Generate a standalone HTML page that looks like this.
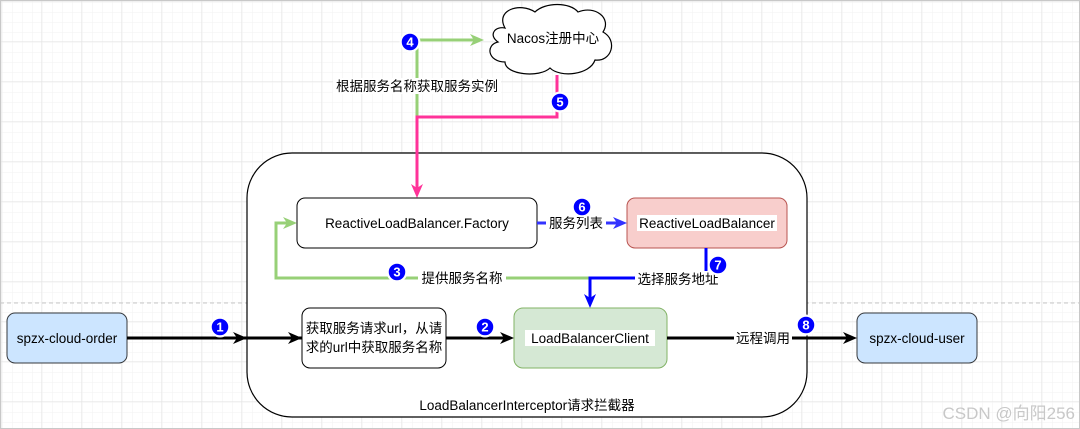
<!DOCTYPE html>
<html><head><meta charset="utf-8"><style>
html,body{margin:0;padding:0;background:#fff}
svg{display:block}
text{font-family:"Liberation Sans","Noto Sans CJK SC",sans-serif;font-size:13.5px;fill:#000}
.b{fill:#fff;font-size:13px;font-weight:bold}
</style></head><body>
<svg width="1080" height="429" viewBox="0 0 1080 429" xmlns="http://www.w3.org/2000/svg">
<defs>
<pattern id="minor" width="10" height="10" patternUnits="userSpaceOnUse" x="1" y="1">
<path d="M10 0H0V10" fill="none" stroke="#f2f2f2" stroke-width="1"/></pattern>
<pattern id="major" width="40" height="40" patternUnits="userSpaceOnUse" x="1" y="1">
<rect width="40" height="40" fill="url(#minor)"/>
<path d="M40 0H0V40" fill="none" stroke="#e2e2e2" stroke-width="1"/></pattern>
<g id="badge"><circle r="10.5" fill="#fff" opacity="0.9"/><circle r="9" fill="#0000ff" stroke="#fff" stroke-width="1.5"/></g>
</defs>
<rect width="1080" height="429" fill="url(#major)"/>
<rect x="0.5" y="0.5" width="1079" height="428" fill="none" stroke="#c8c8c8"/>
<line x1="0" y1="303" x2="1080" y2="303" stroke="#c8c8c8" stroke-dasharray="4,3"/>

<rect x="247" y="153" width="560" height="264" rx="45" fill="#fff" stroke="#000" stroke-width="1.2"/>
<text x="527" y="410" text-anchor="middle">LoadBalancerInterceptor请求拦截器</text>

<path d="M505,28 C495,10 520,2 535,12 C545,2 570,2 578,12 C595,5 612,18 603,32 C618,40 612,62 595,60 C590,75 560,78 550,68 C540,78 505,75 505,62 C488,62 485,45 498,42 C488,35 495,26 505,28z" fill="#fff" stroke="#000" stroke-width="1.2"/>
<text x="553" y="43" text-anchor="middle">Nacos注册中心</text>

<path d="M417,117 V40 H478" fill="none" stroke="#97d077" stroke-width="3"/>
<path d="M484,40 L470,34 L474,40 L470,46z" fill="#97d077"/>
<rect x="333" y="78" width="168" height="16" fill="#fff"/>
<text x="417" y="91" text-anchor="middle">根据服务名称获取服务实例</text>
<path d="M557,75 V117 H417 V190" fill="none" stroke="#ff3399" stroke-width="3"/>
<path d="M417,198 L411,184 L417,188 L423,184z" fill="#ff3399"/>

<rect x="297" y="198" width="240" height="50" rx="8" fill="#fff" stroke="#000"/>
<text x="417" y="228" text-anchor="middle">ReactiveLoadBalancer.Factory</text>
<rect x="627" y="198" width="160" height="50" rx="8" fill="#f8cecc" stroke="#b85450"/>
<rect x="637" y="215" width="140" height="16" fill="#fff"/>
<text x="707" y="228" text-anchor="middle">ReactiveLoadBalancer</text>

<line x1="537" y1="223" x2="620" y2="223" stroke="#3333ff" stroke-width="3"/>
<path d="M627,223 L613,217 L617,223 L613,229z" fill="#3333ff"/>
<rect x="546" y="215" width="60" height="16" fill="#fff"/>
<text x="576" y="228" text-anchor="middle">服务列表</text>

<path d="M590,278 H276 V223 H290" fill="none" stroke="#97d077" stroke-width="3"/>
<path d="M297,223 L283,217 L287,223 L283,229z" fill="#97d077"/>
<rect x="418" y="270" width="88" height="16" fill="#fff"/>
<text x="462" y="283" text-anchor="middle">提供服务名称</text>

<path d="M706,248 V278 H590 V301" fill="none" stroke="#0000ff" stroke-width="3"/>
<path d="M590,308 L584,294 L590,298 L596,294z" fill="#0000ff"/>
<rect x="635" y="271" width="86" height="16" fill="#fff"/>
<text x="678" y="284" text-anchor="middle">选择服务地址</text>

<rect x="7" y="313" width="120" height="50" rx="8" fill="#cce5ff" stroke="#36393d"/>
<text x="67" y="343" text-anchor="middle">spzx-cloud-order</text>
<rect x="302" y="308" width="144" height="60" rx="8" fill="#fff" stroke="#000"/>
<text x="374" y="333" text-anchor="middle">获取服务请求url，从请</text>
<text x="374" y="352" text-anchor="middle">求的url中获取服务名称</text>
<rect x="514" y="308" width="153" height="60" rx="9" fill="#d5e8d4" stroke="#82b366"/>
<rect x="525" y="330" width="130" height="16" fill="#fff"/>
<text x="590" y="343" text-anchor="middle">LoadBalancerClient</text>
<rect x="857" y="313" width="120" height="50" rx="8" fill="#cce5ff" stroke="#36393d"/>
<text x="917" y="343" text-anchor="middle">spzx-cloud-user</text>

<line x1="127" y1="338" x2="246" y2="338" stroke="#000" stroke-width="3"/>
<path d="M247,338 L233,332 L237,338 L233,344z" fill="#000"/>
<line x1="246" y1="338" x2="302" y2="338" stroke="#000" stroke-width="3"/>
<path d="M302,338 L288,332 L292,338 L288,344z" fill="#000"/>
<line x1="446" y1="338" x2="510" y2="338" stroke="#000" stroke-width="3"/>
<path d="M514,338 L500,332 L504,338 L500,344z" fill="#000"/>
<line x1="667" y1="338" x2="852" y2="338" stroke="#000" stroke-width="3"/>
<path d="M857,338 L843,332 L847,338 L843,344z" fill="#000"/>
<rect x="734" y="330" width="58" height="16" fill="#fff"/>
<text x="763" y="343" text-anchor="middle">远程调用</text>

<g transform="translate(220,327)"><use href="#badge"/><text y="4.5" text-anchor="middle" class="b">1</text></g>
<g transform="translate(485,327)"><use href="#badge"/><text y="4.5" text-anchor="middle" class="b">2</text></g>
<g transform="translate(397,272)"><use href="#badge"/><text y="4.5" text-anchor="middle" class="b">3</text></g>
<g transform="translate(410,42)"><use href="#badge"/><text y="4.5" text-anchor="middle" class="b">4</text></g>
<g transform="translate(560,102)"><use href="#badge"/><text y="4.5" text-anchor="middle" class="b">5</text></g>
<g transform="translate(582,207)"><use href="#badge"/><text y="4.5" text-anchor="middle" class="b">6</text></g>
<g transform="translate(718,265)"><use href="#badge"/><text y="4.5" text-anchor="middle" class="b">7</text></g>
<g transform="translate(806,325)"><use href="#badge"/><text y="4.5" text-anchor="middle" class="b">8</text></g>

<text x="1075" y="419" text-anchor="end" style="font-size:17px;fill:#c8c8c8">CSDN @向阳256</text>
</svg>
</body></html>
